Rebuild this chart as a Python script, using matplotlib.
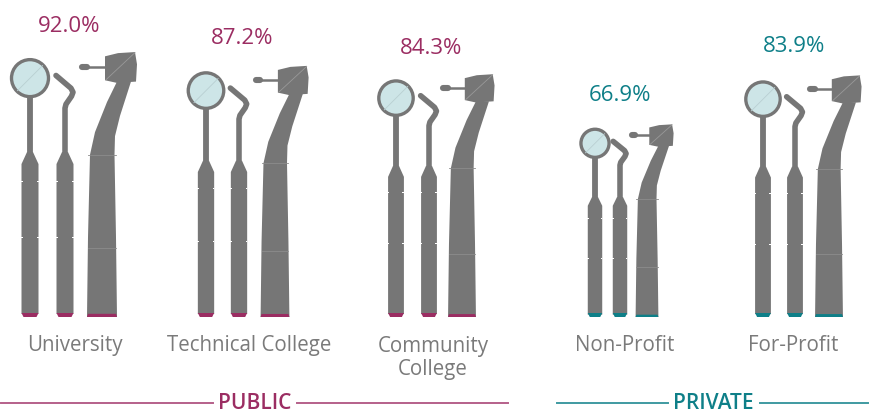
import matplotlib
matplotlib.use("Agg")
import matplotlib.pyplot as plt
from matplotlib.patches import Polygon, Circle, Rectangle

categories = ["University", "Technical College", "Community\nCollege", "Non-Profit", "For-Profit"]
values = [92.0, 87.2, 84.3, 66.9, 83.9]
sectors = ["PUBLIC", "PUBLIC", "PUBLIC", "PRIVATE", "PRIVATE"]
group_names = ["PUBLIC", "PRIVATE"]

COL = {"PUBLIC": "#9b2d62", "PRIVATE": "#0e7f88"}
GREY = "#767676"; GLASS = "#cde5e7"; LABEL = "#7a7a7a"
FONT = "Open Sans"
BASE = 318
PX_PER_UNIT = 266 / 92.0
# layout: x of mirror, pick and handpiece base centre per category, with width factor
MX = [30, 206, 396, 595, 763]
PX = [65, 239, 429, 620, 795]
HX = [102, 275, 462, 647, 829]
WF = [1.0, 0.96, 0.93, 0.76, 0.93]
LX = [75, 249, 433, 625, 793]
LY = [346, 346, 358, 346, 346]
PCT_X = [69, 242, 431, 620, 794]
PCT_Y = [26, 39, 48, 96, 47]

fig = plt.figure(figsize=(8.74, 4.14), dpi=100)
ax = fig.add_axes([0, 0, 1, 1])
ax.set_xlim(0, 874); ax.set_ylim(414, 0); ax.axis("off")

def Y(f, h):  # f: fraction of tool height above the base
    return BASE - f * h

def handle(ax, cx, h, w, c):
    hw = 8.5 * max(w, 0.85)
    pts = [(-hw, 0.012), (-hw, 0.575), (-3, 0.62), (3, 0.62), (hw, 0.575), (hw, 0.012)]
    ax.add_patch(Polygon([(cx + x, Y(f, h)) for x, f in pts], fc=GREY, ec="none", zorder=2))
    ax.add_patch(Polygon([(cx - hw, BASE - 4), (cx + hw, BASE - 4), (cx + hw - 2, BASE), (cx - hw + 2, BASE)],
                         fc=c, ec="none", zorder=2))
    for f in (0.30, 0.51):
        for s in (-1, 1):
            ax.add_patch(Rectangle((cx + s * hw - (1 if s > 0 else 0) - 0.5, Y(f, h) - 0.5), 1.5, 1, fc="white", ec="none", zorder=3))

def mirror(ax, cx, h, w):
    r = 18.5 * w
    cy = Y(0.898, h)
    ax.plot([cx, cx], [cy, Y(0.61, h)], color=GREY, lw=4.2, solid_capstyle="butt", zorder=1)
    ax.add_patch(Circle((cx, cy), r, fc=GLASS, ec=GREY, lw=2.4, zorder=3))
    d = r * 0.68
    ax.plot([cx - d, cx + d], [cy + d, cy - d], color="#b9cfd2", lw=0.6, zorder=4)

def pick(ax, cx, h, w):
    xs = [cx, cx, cx + 1 * w, cx + 6.5 * w, cx + 8 * w, cx + 6 * w, cx - 9 * w]
    ys = [Y(0.61, h), Y(0.785, h), Y(0.80, h), Y(0.83, h), Y(0.845, h), Y(0.86, h), Y(0.908, h)]
    ax.plot(xs, ys, color=GREY, lw=4.0, solid_joinstyle="round", solid_capstyle="round", zorder=1)

def handpiece(ax, cx, h, w, c):
    def P(x, f):
        return (cx + x * w, Y(f, h))
    body = [P(-15, 0.0), P(15, 0.0), P(14, 0.30), P(12.5, 0.61), P(13, 0.68), P(18, 0.756), P(29, 0.885),
            P(15, 0.885), P(5, 0.808), P(-7, 0.695), P(-12, 0.61), P(-14, 0.30)]
    ax.add_patch(Polygon(body, fc=GREY, ec="none", zorder=2))
    head = [P(3, 0.89), P(3, 0.98), P(16, 0.992), P(33, 0.996), P(35, 0.95), P(34, 0.885), P(15, 0.88)]
    ax.add_patch(Polygon(head, fc=GREY, ec="none", zorder=2))
    nozzle_y = Y(0.94, h)
    ax.plot([cx + 3 * w, cx - 19 * w], [nozzle_y, nozzle_y], color=GREY, lw=1.8, zorder=2)
    ax.plot([cx - 20 * w, cx - 15.5 * w], [nozzle_y, nozzle_y], color=GREY, lw=4.4, solid_capstyle="round", zorder=2)
    ax.add_patch(Polygon([P(-15, 0.0), P(15, 0.0), P(14, 0.012), P(-14, 0.012)], fc=c, ec="none", zorder=3))
    for f in (0.61, 0.26):
        a, b = P(-14, f), P(14, f)
        ax.plot([a[0], b[0]], [a[1], a[1]], color="#8c8c8c", lw=0.6, zorder=4)
    a, b = P(4, 0.892), P(33, 0.994)
    ax.plot([a[0], b[0]], [a[1], b[1]], color="#999999", lw=0.6, zorder=4)

for i, (cat, val, sec) in enumerate(zip(categories, values, sectors)):
    h = val * PX_PER_UNIT
    c = COL[sec]; w = WF[i]
    handle(ax, MX[i], h, w, c); mirror(ax, MX[i], h, w)
    handle(ax, PX[i], h, w, c); pick(ax, PX[i], h, w)
    handpiece(ax, HX[i], h, w, c)
    ax.text(PCT_X[i], PCT_Y[i], f"{val:.1f}%", color=c, fontsize=16, family=FONT, ha="center", va="center")
    ax.text(LX[i], LY[i], cat, color=LABEL, fontsize=14.8, family=FONT, ha="center", va="center", linespacing=1.15)

ax.text(255, 403.5, group_names[0], color=COL["PUBLIC"], fontsize=15, family=FONT, weight="semibold", ha="center", va="center")
ax.plot([1, 213], [404, 404], color="#b5608a", lw=1.4)
ax.plot([297, 508], [404, 404], color="#b5608a", lw=1.4)
ax.text(713, 403.5, group_names[1], color=COL["PRIVATE"], fontsize=15, family=FONT, weight="semibold", ha="center", va="center")
ax.plot([557, 668], [404, 404], color="#3f9aa1", lw=1.4)
ax.plot([760, 868], [404, 404], color="#3f9aa1", lw=1.4)

fig.savefig("out.png", dpi=100)
